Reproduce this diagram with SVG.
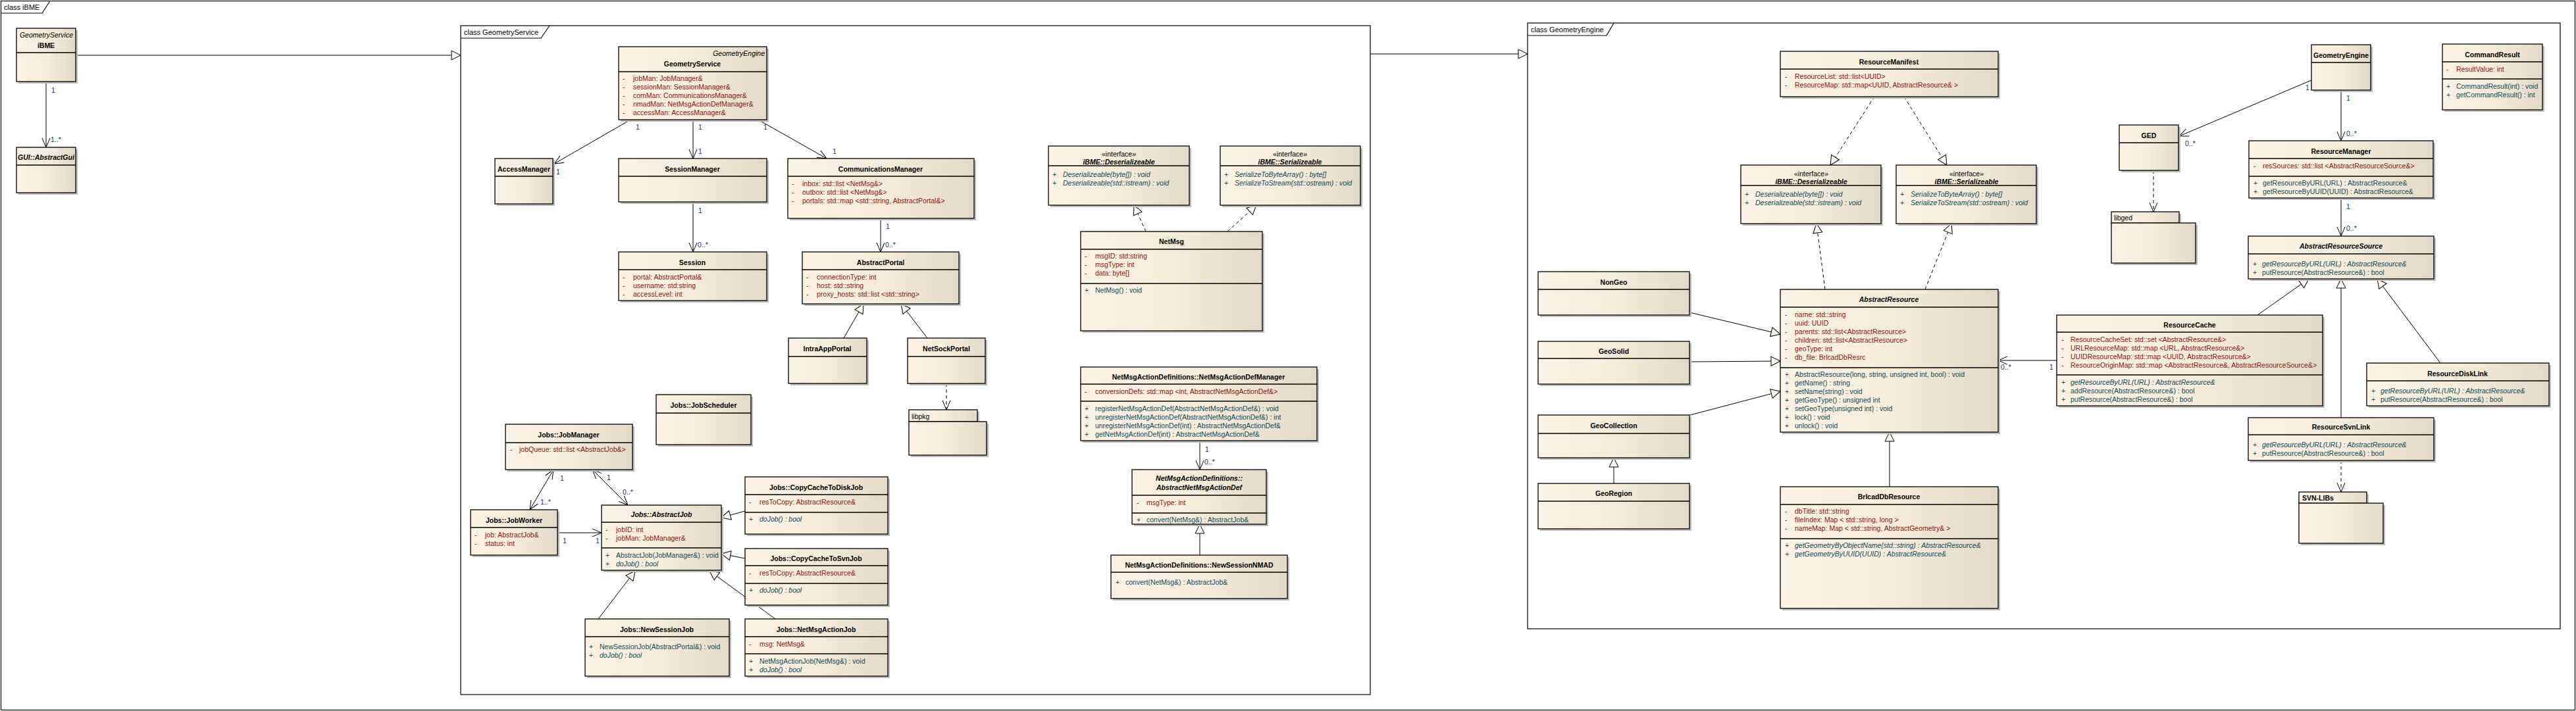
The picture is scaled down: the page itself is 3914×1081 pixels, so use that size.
<svg xmlns="http://www.w3.org/2000/svg" width="3914" height="1081" viewBox="0 0 3914 1081" xml:space="preserve">
<defs>
<style>
text{font-family:"Liberation Sans",Arial,sans-serif;font-size:10.5px;fill:#000;font-style:normal}
.t{font-weight:bold;text-anchor:middle}
.c{text-anchor:middle}
.it{font-style:italic}
.a{fill:#8A1212}
.m{fill:#0F4A57}
.ml{fill:#15307A}
.pk{font-size:11px}
.bx{fill:url(#g);stroke:#000;stroke-width:1.3}
.sh{fill:#BEBEBE}
.dv{stroke:#000;stroke-width:1.3;fill:none}
.fr{fill:#fff;stroke:#000;stroke-width:1.2}
.tab{fill:none;stroke:#000;stroke-width:1.2}
.ln{fill:none;stroke:#000;stroke-width:1}
.ds{stroke-dasharray:5,4}
.as{marker-end:url(#open)}
.ab{marker-start:url(#open);marker-end:url(#open)}
.ge{marker-end:url(#tri)}
</style>
<linearGradient id="g" x1="0" y1="0" x2="1" y2="0"><stop offset="0" stop-color="#FBF2E4"/><stop offset="0.5" stop-color="#F6ECDC"/><stop offset="1" stop-color="#E3D9C8"/></linearGradient>
<marker id="open" markerUnits="userSpaceOnUse" markerWidth="16" markerHeight="14" refX="14" refY="6" orient="auto-start-reverse" overflow="visible"><path d="M0,0L14,6L0,12" fill="none" stroke="#000" stroke-width="1" stroke-dasharray="none"/></marker>
<marker id="tri" markerUnits="userSpaceOnUse" markerWidth="16" markerHeight="16" refX="14" refY="7" orient="auto" overflow="visible"><path d="M0,0L14,7L0,14Z" fill="#FBF6EE" stroke="#000" stroke-width="1" stroke-dasharray="none"/></marker>
</defs>
<rect x="0" y="0" width="3914" height="1081" fill="#fff"/>

<g id="pkg-ibme">
<rect class="fr" x="1.5" y="1.5" width="3911" height="1078"/>
<path class="tab" d="M1.5,20H64L76,1.5"/>
<text class="pk" x="6" y="15">class iBME</text>
</g>
<g id="pkg-geometryservice">
<rect class="fr" x="700" y="39" width="1382" height="1017"/>
<path class="tab" d="M700,58H822L835,39"/>
<text class="pk" x="705" y="53">class GeometryService</text>
</g>
<g id="pkg-geometryengine">
<rect class="fr" x="2321" y="35" width="1569" height="921"/>
<path class="tab" d="M2321,54H2441L2452,35"/>
<text class="pk" x="2326" y="49">class GeometryEngine</text>
</g>

<g id="connectors">
<path class="ln ge" d="M115,84H700"/>
<path class="ln as" d="M70,124V224"/>
<path class="ln ge" d="M2082,82H2321"/>
<path class="ln as" d="M958,182L842,249"/>
<path class="ln as" d="M1053,182V241"/>
<path class="ln as" d="M1152,182L1256,241"/>
<path class="ln as" d="M1053,307V383"/>
<path class="ln as" d="M1338,332V383"/>
<path class="ln ge" d="M1282,514L1312,462"/>
<path class="ln ge" d="M1409,514L1369,462"/>
<path class="ln ds as" d="M1438,583V623"/>
<path class="ln ab" d="M841,714L805,775"/>
<path class="ln ab" d="M900,714L954,768"/>
<path class="ln as" d="M847,810H914"/>
<path class="ln ge" d="M1132,777L1096,787"/>
<path class="ln ge" d="M1132,849L1096,842"/>
<path class="ln ge" d="M909,941L965,868"/>
<path class="ln ge" d="M1178,941L1078,868"/>
<path class="ln ds ge" d="M1741,352L1723,312"/>
<path class="ln ds ge" d="M1865,352L1909,312"/>
<path class="ln as" d="M1823,670V714"/>
<path class="ln ge" d="M1823,844V797"/>
<path class="ln ds ge" d="M2848,147L2781,251"/>
<path class="ln ds ge" d="M2893,147L2958,251"/>
<path class="ln ds ge" d="M2773,440L2760,340"/>
<path class="ln ds ge" d="M2925,440L2965,340"/>
<path class="ln ge" d="M2567,475L2705,508"/>
<path class="ln ge" d="M2567,550L2705,549"/>
<path class="ln ge" d="M2568,631L2705,595"/>
<path class="ln ge" d="M2452,735V696"/>
<path class="ln ge" d="M2871,740V657"/>
<path class="ln as" d="M3512,122L3311,207"/>
<path class="ln as" d="M3557,137V214"/>
<path class="ln as" d="M3557,301V359"/>
<path class="ln ds as" d="M3272,259V322"/>
<path class="ln ge" d="M3430,479L3508,424"/>
<path class="ln ge" d="M3557,635V424"/>
<path class="ln ge" d="M3708,552L3612,424"/>
<path class="ln as" d="M3125,548H3036"/>
<path class="ln ds as" d="M3557,700V748"/>
<text class="ml" x="78" y="141">1</text>
<text class="ml" x="77" y="216">1..*</text>
<text class="ml" x="966" y="197">1</text>
<text class="ml" x="845" y="265">1</text>
<text class="ml" x="1061" y="197">1</text>
<text class="ml" x="1061" y="234">1</text>
<text class="ml" x="1160" y="197">1</text>
<text class="ml" x="1265" y="234">1</text>
<text class="ml" x="1061" y="324">1</text>
<text class="ml" x="1060" y="376">0..*</text>
<text class="ml" x="1346" y="348">1</text>
<text class="ml" x="1345" y="376">0..*</text>
<text class="ml" x="851" y="731">1</text>
<text class="ml" x="821" y="767">1..*</text>
<text class="ml" x="922" y="730">1</text>
<text class="ml" x="946" y="752">0..*</text>
<text class="ml" x="855" y="826">1</text>
<text class="ml" x="905" y="826">1</text>
<text class="ml" x="1831" y="687">1</text>
<text class="ml" x="1830" y="706">0..*</text>
<text class="ml" x="3503" y="137">1</text>
<text class="ml" x="3320" y="222">0..*</text>
<text class="ml" x="3565" y="153">1</text>
<text class="ml" x="3565" y="207">0..*</text>
<text class="ml" x="3565" y="318">1</text>
<text class="ml" x="3565" y="351">0..*</text>
<text class="ml" x="3040" y="562">0..*</text>
<text class="ml" x="3114" y="562">1</text>
</g>

<g id="n-ibme">
<rect class="sh" x="28" y="46" width="90" height="81"/><rect class="bx" x="25" y="43" width="90" height="81"/><path class="dv" d="M25,80H115"/>
<text class="it" x="111" y="57" text-anchor="end">GeometryService</text>
<text class="t" x="70" y="73">iBME</text>
</g>
<g id="n-abstractgui">
<rect class="sh" x="28" y="227" width="90" height="69"/><rect class="bx" x="25" y="224" width="90" height="69"/><path class="dv" d="M25,251H115"/>
<text class="t it" x="70" y="243">GUI::AbstractGui</text>
</g>

<g id="n-geometryservice">
<rect class="sh" x="943" y="74" width="225" height="111"/><rect class="bx" x="940" y="71" width="225" height="111"/><path class="dv" d="M940,109H1165"/>
<text class="it" x="1162" y="85" text-anchor="end">GeometryEngine</text>
<text class="t" x="1052" y="101">GeometryService</text>
<text class="a" y="123"><tspan x="946">-</tspan><tspan x="962">jobMan:  JobManager&amp;</tspan></text>
<text class="a" y="136"><tspan x="946">-</tspan><tspan x="962">sessionMan:  SessionManager&amp;</tspan></text>
<text class="a" y="149"><tspan x="946">-</tspan><tspan x="962">comMan:  CommunicationsManager&amp;</tspan></text>
<text class="a" y="162"><tspan x="946">-</tspan><tspan x="962">nmadMan:  NetMsgActionDefManager&amp;</tspan></text>
<text class="a" y="175"><tspan x="946">-</tspan><tspan x="962">accessMan:  AccessManager&amp;</tspan></text>
</g>
<g id="n-accessmanager">
<rect class="sh" x="755" y="244" width="88" height="69"/><rect class="bx" x="752" y="241" width="88" height="69"/><path class="dv" d="M752,268H840"/>
<text class="t" x="796" y="261">AccessManager</text>
</g>
<g id="n-sessionmanager">
<rect class="sh" x="943" y="244" width="225" height="66"/><rect class="bx" x="940" y="241" width="225" height="66"/><path class="dv" d="M940,268H1165"/>
<text class="t" x="1052" y="261">SessionManager</text>
</g>
<g id="n-communicationsmanager">
<rect class="sh" x="1200" y="244" width="283" height="91"/><rect class="bx" x="1197" y="241" width="283" height="91"/><path class="dv" d="M1197,268H1480"/>
<text class="t" x="1338" y="261">CommunicationsManager</text>
<text class="a" y="283"><tspan x="1203">-</tspan><tspan x="1219">inbox:  std::list &lt;NetMsg&amp;&gt;</tspan></text>
<text class="a" y="296"><tspan x="1203">-</tspan><tspan x="1219">outbox:  std::list &lt;NetMsg&amp;&gt;</tspan></text>
<text class="a" y="309"><tspan x="1203">-</tspan><tspan x="1219">portals:  std::map &lt;std::string, AbstractPortal&amp;&gt;</tspan></text>
</g>
<g id="n-session">
<rect class="sh" x="943" y="386" width="225" height="74"/><rect class="bx" x="940" y="383" width="225" height="74"/><path class="dv" d="M940,410H1165"/>
<text class="t" x="1052" y="403">Session</text>
<text class="a" y="425"><tspan x="946">-</tspan><tspan x="962">portal:  AbstractPortal&amp;</tspan></text>
<text class="a" y="438"><tspan x="946">-</tspan><tspan x="962">username:  std:string</tspan></text>
<text class="a" y="451"><tspan x="946">-</tspan><tspan x="962">accessLevel:  int</tspan></text>
</g>
<g id="n-abstractportal">
<rect class="sh" x="1222" y="386" width="238" height="79"/><rect class="bx" x="1219" y="383" width="238" height="79"/><path class="dv" d="M1219,410H1457"/>
<text class="t" x="1338" y="403">AbstractPortal</text>
<text class="a" y="425"><tspan x="1225">-</tspan><tspan x="1241">connectionType:  int</tspan></text>
<text class="a" y="438"><tspan x="1225">-</tspan><tspan x="1241">host:  std::string</tspan></text>
<text class="a" y="451"><tspan x="1225">-</tspan><tspan x="1241">proxy_hosts:  std::list &lt;std::string&gt;</tspan></text>
</g>
<g id="n-intraappportal">
<rect class="sh" x="1201" y="517" width="119" height="69"/><rect class="bx" x="1198" y="514" width="119" height="69"/><path class="dv" d="M1198,542H1317"/>
<text class="t" x="1257" y="534">IntraAppPortal</text>
</g>
<g id="n-netsockportal">
<rect class="sh" x="1382" y="517" width="118" height="69"/><rect class="bx" x="1379" y="514" width="118" height="69"/><path class="dv" d="M1379,542H1497"/>
<text class="t" x="1438" y="534">NetSockPortal</text>
</g>
<g id="n-libpkg">
<rect class="sh" x="1384" y="626" width="104" height="18"/><rect class="sh" x="1384" y="644" width="118" height="51"/>
<rect class="bx" x="1381" y="623" width="104" height="18"/><rect class="bx" x="1381" y="641" width="118" height="51"/>
<text x="1385" y="637">libpkg</text>
</g>
<g id="n-jobscheduler">
<rect class="sh" x="1000" y="603" width="144" height="76"/><rect class="bx" x="997" y="600" width="144" height="76"/><path class="dv" d="M997,628H1141"/>
<text class="t" x="1069" y="620">Jobs::JobScheduler</text>
</g>
<g id="n-jobmanager">
<rect class="sh" x="771" y="648" width="193" height="69"/><rect class="bx" x="768" y="645" width="193" height="69"/><path class="dv" d="M768,673H961"/>
<text class="t" x="864" y="665">Jobs::JobManager</text>
<text class="a" y="687"><tspan x="775">-</tspan><tspan x="789">jobQueue:  std::list &lt;AbstractJob&amp;&gt;</tspan></text>
</g>
<g id="n-jobworker">
<rect class="sh" x="718" y="778" width="132" height="69"/><rect class="bx" x="715" y="775" width="132" height="69"/><path class="dv" d="M715,802H847"/>
<text class="t" x="781" y="795">Jobs::JobWorker</text>
<text class="a" y="817"><tspan x="721">-</tspan><tspan x="737">job:  AbstractJob&amp;</tspan></text>
<text class="a" y="830"><tspan x="721">-</tspan><tspan x="737">status:  int</tspan></text>
</g>
<g id="n-abstractjob">
<rect class="sh" x="917" y="771" width="182" height="99"/><rect class="bx" x="914" y="768" width="182" height="99"/><path class="dv" d="M914,794H1096M914,833H1096"/>
<text class="t it" x="1005" y="786">Jobs::AbstractJob</text>
<text class="a" y="809"><tspan x="920">-</tspan><tspan x="936">jobID:  int</tspan></text>
<text class="a" y="822"><tspan x="920">-</tspan><tspan x="936">jobMan:  JobManager&amp;</tspan></text>
<text class="m" y="848"><tspan x="920">+</tspan><tspan x="936">AbstractJob(JobManager&amp;) : void</tspan></text>
<text class="m" y="861"><tspan x="920">+</tspan><tspan x="936" class="it">doJob() : bool</tspan></text>
</g>
<g id="n-copycachetodiskjob">
<rect class="sh" x="1135" y="728" width="217" height="87"/><rect class="bx" x="1132" y="725" width="217" height="87"/><path class="dv" d="M1132,752H1349M1132,779H1349"/>
<text class="t" x="1240" y="745">Jobs::CopyCacheToDiskJob</text>
<text class="a" y="767"><tspan x="1138">-</tspan><tspan x="1154">resToCopy:  AbstractResource&amp;</tspan></text>
<text class="m" y="793"><tspan x="1138">+</tspan><tspan x="1154" class="it">doJob() : bool</tspan></text>
</g>
<g id="n-copycachetosvnjob">
<rect class="sh" x="1135" y="837" width="217" height="86"/><rect class="bx" x="1132" y="834" width="217" height="86"/><path class="dv" d="M1132,860H1349M1132,887H1349"/>
<text class="t" x="1240" y="853">Jobs::CopyCacheToSvnJob</text>
<text class="a" y="875"><tspan x="1138">-</tspan><tspan x="1154">resToCopy:  AbstractResource&amp;</tspan></text>
<text class="m" y="901"><tspan x="1138">+</tspan><tspan x="1154" class="it">doJob() : bool</tspan></text>
</g>
<g id="n-newsessionjob">
<rect class="sh" x="892" y="944" width="219" height="87"/><rect class="bx" x="889" y="941" width="219" height="87"/><path class="dv" d="M889,968H1108"/>
<text class="t" x="998" y="961">Jobs::NewSessionJob</text>
<text class="m" y="987"><tspan x="895">+</tspan><tspan x="911">NewSessionJob(AbstractPortal&amp;) : void</tspan></text>
<text class="m" y="1000"><tspan x="895">+</tspan><tspan x="911" class="it">doJob() : bool</tspan></text>
</g>
<g id="n-netmsgactionjob">
<rect class="sh" x="1135" y="944" width="217" height="87"/><rect class="bx" x="1132" y="941" width="217" height="87"/><path class="dv" d="M1132,968H1349M1132,994H1349"/>
<text class="t" x="1240" y="961">Jobs::NetMsgActionJob</text>
<text class="a" y="983"><tspan x="1138">-</tspan><tspan x="1154">msg:  NetMsg&amp;</tspan></text>
<text class="m" y="1009"><tspan x="1138">+</tspan><tspan x="1154">NetMsgActionJob(NetMsg&amp;) : void</tspan></text>
<text class="m" y="1022"><tspan x="1138">+</tspan><tspan x="1154" class="it">doJob() : bool</tspan></text>
</g>
<g id="n-deserializeable-gs">
<rect class="sh" x="1596" y="225" width="214" height="90"/><rect class="bx" x="1593" y="222" width="214" height="90"/><path class="dv" d="M1593,252H1807"/>
<text class="c" x="1700" y="238">«interface»</text>
<text class="t it" x="1700" y="250">iBME::Deserializeable</text>
<text class="m it" y="269"><tspan x="1599">+</tspan><tspan x="1615">Deserializeable(byte[]) : void</tspan></text>
<text class="m it" y="282"><tspan x="1599">+</tspan><tspan x="1615">Deserializeable(std::istream) : void</tspan></text>
</g>
<g id="n-serializeable-gs">
<rect class="sh" x="1857" y="225" width="213" height="90"/><rect class="bx" x="1854" y="222" width="213" height="90"/><path class="dv" d="M1854,252H2067"/>
<text class="c" x="1960" y="238">«interface»</text>
<text class="t it" x="1960" y="250">iBME::Serializeable</text>
<text class="m it" y="269"><tspan x="1860">+</tspan><tspan x="1876">SerializeToByteArray() : byte[]</tspan></text>
<text class="m it" y="282"><tspan x="1860">+</tspan><tspan x="1876">SerializeToStream(std::ostream) : void</tspan></text>
</g>
<g id="n-netmsg">
<rect class="sh" x="1645" y="355" width="276" height="151"/><rect class="bx" x="1642" y="352" width="276" height="151"/><path class="dv" d="M1642,379H1918M1642,431H1918"/>
<text class="t" x="1780" y="371">NetMsg</text>
<text class="a" y="393"><tspan x="1648">-</tspan><tspan x="1664">msgID:  std:string</tspan></text>
<text class="a" y="406"><tspan x="1648">-</tspan><tspan x="1664">msgType:  int</tspan></text>
<text class="a" y="419"><tspan x="1648">-</tspan><tspan x="1664">data:  byte[]</tspan></text>
<text class="m" y="445"><tspan x="1648">+</tspan><tspan x="1664">NetMsg() : void</tspan></text>
</g>
<g id="n-netmsgactiondefmanager">
<rect class="sh" x="1645" y="561" width="359" height="112"/><rect class="bx" x="1642" y="558" width="359" height="112"/><path class="dv" d="M1642,584H2001M1642,610H2001"/>
<text class="t" x="1821" y="577">NetMsgActionDefinitions::NetMsgActionDefManager</text>
<text class="a" y="599"><tspan x="1648">-</tspan><tspan x="1664">conversionDefs:  std::map &lt;int, AbstractNetMsgActionDef&amp;&gt;</tspan></text>
<text class="m" y="625"><tspan x="1648">+</tspan><tspan x="1664">registerNetMsgActionDef(AbstractNetMsgActionDef&amp;) : void</tspan></text>
<text class="m" y="638"><tspan x="1648">+</tspan><tspan x="1664">unregisterNetMsgActionDef(AbstractNetMsgActionDef&amp;) : int</tspan></text>
<text class="m" y="651"><tspan x="1648">+</tspan><tspan x="1664">unregisterNetMsgActionDef(int) : AbstractNetMsgActionDef&amp;</tspan></text>
<text class="m" y="664"><tspan x="1648">+</tspan><tspan x="1664">getNetMsgActionDef(int) : AbstractNetMsgActionDef&amp;</tspan></text>
</g>
<g id="n-abstractnetmsgactiondef">
<rect class="sh" x="1723" y="717" width="204" height="83"/><rect class="bx" x="1720" y="714" width="204" height="83"/><path class="dv" d="M1720,753H1924M1720,780H1924"/>
<text class="t it" x="1822" y="731">NetMsgActionDefinitions::</text>
<text class="t it" x="1822" y="745">AbstractNetMsgActionDef</text>
<text class="a" y="768"><tspan x="1727">-</tspan><tspan x="1742">msgType:  int</tspan></text>
<text class="m" y="794"><tspan x="1727">+</tspan><tspan x="1742">convert(NetMsg&amp;) : AbstractJob&amp;</tspan></text>
</g>
<g id="n-newsessionnmad">
<rect class="sh" x="1691" y="847" width="268" height="66"/><rect class="bx" x="1688" y="844" width="268" height="66"/><path class="dv" d="M1688,870H1956"/>
<text class="t" x="1822" y="863">NetMsgActionDefinitions::NewSessionNMAD</text>
<text class="m" y="889"><tspan x="1695">+</tspan><tspan x="1710">convert(NetMsg&amp;) : AbstractJob&amp;</tspan></text>
</g>

<g id="n-resourcemanifest">
<rect class="sh" x="2708" y="81" width="331" height="69"/><rect class="bx" x="2705" y="78" width="331" height="69"/><path class="dv" d="M2705,105H3036"/>
<text class="t" x="2870" y="98">ResourceManifest</text>
<text class="a" y="120"><tspan x="2712">-</tspan><tspan x="2727">ResourceList:  std::list&lt;UUID&gt;</tspan></text>
<text class="a" y="133"><tspan x="2712">-</tspan><tspan x="2727">ResourceMap:  std::map&lt;UUID, AbstractResource&amp; &gt;</tspan></text>
</g>
<g id="n-deserializeable-ge">
<rect class="sh" x="2648" y="254" width="213" height="89"/><rect class="bx" x="2645" y="251" width="213" height="89"/><path class="dv" d="M2645,282H2858"/>
<text class="c" x="2752" y="268">«interface»</text>
<text class="t it" x="2752" y="280">iBME::Deserializeable</text>
<text class="m it" y="299"><tspan x="2651">+</tspan><tspan x="2667">Deserializeable(byte[]) : void</tspan></text>
<text class="m it" y="312"><tspan x="2651">+</tspan><tspan x="2667">Deserializeable(std::istream) : void</tspan></text>
</g>
<g id="n-serializeable-ge">
<rect class="sh" x="2884" y="254" width="213" height="89"/><rect class="bx" x="2881" y="251" width="213" height="89"/><path class="dv" d="M2881,282H3094"/>
<text class="c" x="2988" y="268">«interface»</text>
<text class="t it" x="2988" y="280">iBME::Serializeable</text>
<text class="m it" y="299"><tspan x="2887">+</tspan><tspan x="2903">SerializeToByteArray() : byte[]</tspan></text>
<text class="m it" y="312"><tspan x="2887">+</tspan><tspan x="2903">SerializeToStream(std::ostream) : void</tspan></text>
</g>
<g id="n-nongeo">
<rect class="sh" x="2340" y="416" width="230" height="66"/><rect class="bx" x="2337" y="413" width="230" height="66"/><path class="dv" d="M2337,440H2567"/>
<text class="t" x="2452" y="433">NonGeo</text>
</g>
<g id="n-geosolid">
<rect class="sh" x="2340" y="522" width="230" height="65"/><rect class="bx" x="2337" y="519" width="230" height="65"/><path class="dv" d="M2337,545H2567"/>
<text class="t" x="2452" y="538">GeoSolid</text>
</g>
<g id="n-geocollection">
<rect class="sh" x="2340" y="634" width="230" height="65"/><rect class="bx" x="2337" y="631" width="230" height="65"/><path class="dv" d="M2337,659H2567"/>
<text class="t" x="2452" y="651">GeoCollection</text>
</g>
<g id="n-georegion">
<rect class="sh" x="2340" y="738" width="230" height="69"/><rect class="bx" x="2337" y="735" width="230" height="69"/><path class="dv" d="M2337,762H2567"/>
<text class="t" x="2452" y="754">GeoRegion</text>
</g>
<g id="n-abstractresource">
<rect class="sh" x="2708" y="443" width="331" height="217"/><rect class="bx" x="2705" y="440" width="331" height="217"/><path class="dv" d="M2705,467H3036M2705,559H3036"/>
<text class="t it" x="2870" y="459">AbstractResource</text>
<text class="a" y="482"><tspan x="2712">-</tspan><tspan x="2727">name:  std::string</tspan></text>
<text class="a" y="495"><tspan x="2712">-</tspan><tspan x="2727">uuid:  UUID</tspan></text>
<text class="a" y="508"><tspan x="2712">-</tspan><tspan x="2727">parents:  std::list&lt;AbstractResource&gt;</tspan></text>
<text class="a" y="521"><tspan x="2712">-</tspan><tspan x="2727">children:  std::list&lt;AbstractResource&gt;</tspan></text>
<text class="a" y="534"><tspan x="2712">-</tspan><tspan x="2727">geoType:  int</tspan></text>
<text class="a" y="547"><tspan x="2712">-</tspan><tspan x="2727">db_file:  BrlcadDbResrc</tspan></text>
<text class="m" y="573"><tspan x="2712">+</tspan><tspan x="2727">AbstractResource(long, string, unsigned int, bool) : void</tspan></text>
<text class="m" y="586"><tspan x="2712">+</tspan><tspan x="2727">getName() : string</tspan></text>
<text class="m" y="599"><tspan x="2712">+</tspan><tspan x="2727">setName(string) : void</tspan></text>
<text class="m" y="612"><tspan x="2712">+</tspan><tspan x="2727">getGeoType() : unsigned int</tspan></text>
<text class="m" y="625"><tspan x="2712">+</tspan><tspan x="2727">setGeoType(unsigned int) : void</tspan></text>
<text class="m" y="638"><tspan x="2712">+</tspan><tspan x="2727">lock() : void</tspan></text>
<text class="m" y="651"><tspan x="2712">+</tspan><tspan x="2727">unlock() : void</tspan></text>
</g>
<g id="n-brlcaddbresource">
<rect class="sh" x="2708" y="743" width="331" height="185"/><rect class="bx" x="2705" y="740" width="331" height="185"/><path class="dv" d="M2705,767H3036M2705,819H3036"/>
<text class="t" x="2870" y="759">BrlcadDbResource</text>
<text class="a" y="781"><tspan x="2712">-</tspan><tspan x="2727">dbTitle:  std::string</tspan></text>
<text class="a" y="794"><tspan x="2712">-</tspan><tspan x="2727">fileIndex:  Map &lt; std::string, long &gt;</tspan></text>
<text class="a" y="807"><tspan x="2712">-</tspan><tspan x="2727">nameMap:  Map &lt; std::string, AbstractGeometry&amp; &gt;</tspan></text>
<text class="m it" y="833"><tspan x="2712">+</tspan><tspan x="2727">getGeometryByObjectName(std::string) : AbstractResource&amp;</tspan></text>
<text class="m it" y="846"><tspan x="2712">+</tspan><tspan x="2727">getGeometryByUUID(UUID) : AbstractResource&amp;</tspan></text>
</g>
<g id="n-geometryengine">
<rect class="sh" x="3515" y="71" width="90" height="69"/><rect class="bx" x="3512" y="68" width="90" height="69"/><path class="dv" d="M3512,95H3602"/>
<text class="t" x="3557" y="88">GeometryEngine</text>
</g>
<g id="n-commandresult">
<rect class="sh" x="3714" y="70" width="152" height="100"/><rect class="bx" x="3711" y="67" width="152" height="100"/><path class="dv" d="M3711,94H3863M3711,120H3863"/>
<text class="t" x="3787" y="87">CommandResult</text>
<text class="a" y="109"><tspan x="3717">-</tspan><tspan x="3732">ResultValue:  int</tspan></text>
<text class="m" y="135"><tspan x="3717">+</tspan><tspan x="3732">CommandResult(int) : void</tspan></text>
<text class="m" y="148"><tspan x="3717">+</tspan><tspan x="3732">getCommandResult() : int</tspan></text>
</g>
<g id="n-ged">
<rect class="sh" x="3223" y="193" width="90" height="69"/><rect class="bx" x="3220" y="190" width="90" height="69"/><path class="dv" d="M3220,217H3310"/>
<text class="t" x="3265" y="210">GED</text>
</g>
<g id="n-libged">
<rect class="sh" x="3211" y="325" width="103" height="17"/><rect class="sh" x="3211" y="342" width="128" height="61"/>
<rect class="bx" x="3208" y="322" width="103" height="17"/><rect class="bx" x="3208" y="339" width="128" height="61"/>
<text x="3212" y="335">libged</text>
</g>
<g id="n-resourcemanager">
<rect class="sh" x="3420" y="217" width="280" height="87"/><rect class="bx" x="3417" y="214" width="280" height="87"/><path class="dv" d="M3417,241H3697M3417,268H3697"/>
<text class="t" x="3557" y="234">ResourceManager</text>
<text class="a" y="256"><tspan x="3424">-</tspan><tspan x="3438">resSources:  std::list &lt;AbstractResourceSource&amp;&gt;</tspan></text>
<text class="m" y="282"><tspan x="3424">+</tspan><tspan x="3438">getResourceByURL(URL) : AbstractResource&amp;</tspan></text>
<text class="m" y="295"><tspan x="3424">+</tspan><tspan x="3438">getResourceByUUID(UUID) : AbstractResource&amp;</tspan></text>
</g>
<g id="n-abstractresourcesource">
<rect class="sh" x="3419" y="362" width="282" height="65"/><rect class="bx" x="3416" y="359" width="282" height="65"/><path class="dv" d="M3416,386H3698"/>
<text class="t it" x="3557" y="378">AbstractResourceSource</text>
<text class="m" y="405"><tspan x="3423">+</tspan><tspan x="3437" class="it">getResourceByURL(URL) : AbstractResource&amp;</tspan></text>
<text class="m" y="418"><tspan x="3423">+</tspan><tspan x="3437">putResource(AbstractResource&amp;) : bool</tspan></text>
</g>
<g id="n-resourcecache">
<rect class="sh" x="3128" y="482" width="404" height="138"/><rect class="bx" x="3125" y="479" width="404" height="138"/><path class="dv" d="M3125,505H3529M3125,570H3529"/>
<text class="t" x="3327" y="498">ResourceCache</text>
<text class="a" y="520"><tspan x="3132">-</tspan><tspan x="3146">ResourceCacheSet:  std::set &lt;AbstractResource&amp;&gt;</tspan></text>
<text class="a" y="533"><tspan x="3132">-</tspan><tspan x="3146">URLResourceMap:  std::map &lt;URL, AbstractResource&amp;&gt;</tspan></text>
<text class="a" y="546"><tspan x="3132">-</tspan><tspan x="3146">UUIDResourceMap:  std::map &lt;UUID, AbstractResource&amp;&gt;</tspan></text>
<text class="a" y="559"><tspan x="3132">-</tspan><tspan x="3146">ResourceOriginMap:  std::map &lt;AbstractResource&amp;, AbstractResourceSource&amp;&gt;</tspan></text>
<text class="m" y="585"><tspan x="3132">+</tspan><tspan x="3146" class="it">getResourceByURL(URL) : AbstractResource&amp;</tspan></text>
<text class="m" y="598"><tspan x="3132">+</tspan><tspan x="3146">addResource(AbstractResource&amp;) : bool</tspan></text>
<text class="m" y="611"><tspan x="3132">+</tspan><tspan x="3146">putResource(AbstractResource&amp;) : bool</tspan></text>
</g>
<g id="n-resourcedisklink">
<rect class="sh" x="3599" y="555" width="277" height="65"/><rect class="bx" x="3596" y="552" width="277" height="65"/><path class="dv" d="M3596,579H3873"/>
<text class="t" x="3734" y="572">ResourceDiskLink</text>
<text class="m" y="598"><tspan x="3603">+</tspan><tspan x="3617" class="it">getResourceByURL(URL) : AbstractResource&amp;</tspan></text>
<text class="m" y="611"><tspan x="3603">+</tspan><tspan x="3617">putResource(AbstractResource&amp;) : bool</tspan></text>
</g>
<g id="n-resourcesvnlink">
<rect class="sh" x="3419" y="638" width="282" height="65"/><rect class="bx" x="3416" y="635" width="282" height="65"/><path class="dv" d="M3416,661H3698"/>
<text class="t" x="3557" y="653">ResourceSvnLink</text>
<text class="m" y="680"><tspan x="3423">+</tspan><tspan x="3437" class="it">getResourceByURL(URL) : AbstractResource&amp;</tspan></text>
<text class="m" y="693"><tspan x="3423">+</tspan><tspan x="3437">putResource(AbstractResource&amp;) : bool</tspan></text>
</g>
<g id="n-svnlibs">
<rect class="sh" x="3496" y="751" width="103" height="17"/><rect class="sh" x="3496" y="768" width="128" height="61"/>
<rect class="bx" x="3493" y="748" width="103" height="17"/><rect class="bx" x="3493" y="765" width="128" height="61"/>
<text x="3498" y="761" font-weight="bold">SVN-LIBs</text>
</g>
</svg>
